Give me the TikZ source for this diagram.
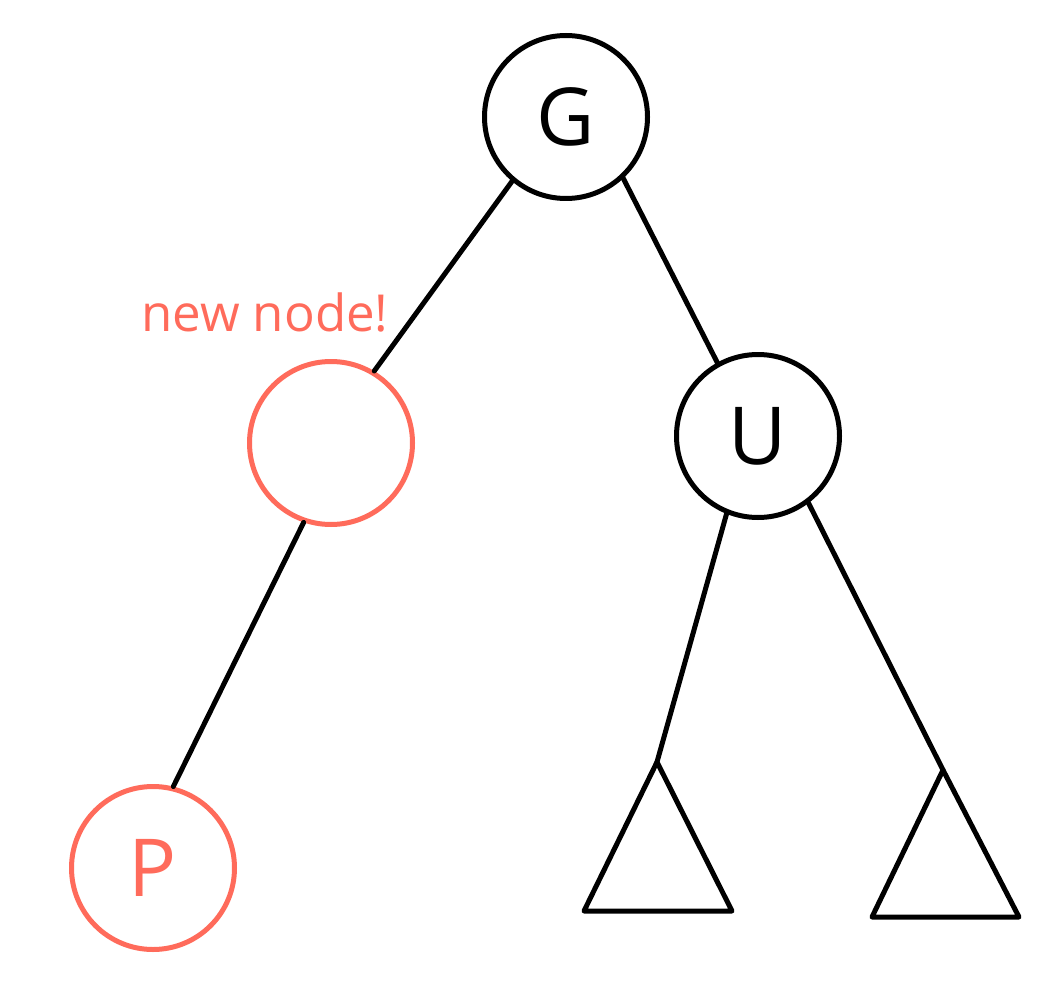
\documentclass[tikz,border=0pt]{standalone}
\usepackage{fontspec}
\setmainfont{Open Sans}
\definecolor{salmon}{HTML}{FF6B5B}
\tikzset{
  treenode/.style={circle, draw=black, line width=5pt, minimum size=163pt, inner sep=0pt, font=\fontsize{80}{80}\selectfont},
  rednode/.style={treenode, draw=salmon, text=salmon},
  edge/.style={line width=5pt, line cap=round},
  subtree/.style={line width=5pt, line join=round}
}
\begin{document}
\begin{tikzpicture}[x=1pt,y=-1pt]
\useasboundingbox (0,0) rectangle (1049,1000);
\node[treenode] (G) at (566,117) {G};
\node[rednode] (N) at (331,443) {};
\node[treenode] (U) at (758,436) {U};
\node[rednode] (P) at (153,868) {P};
\coordinate (T1) at (657,762);
\coordinate (T2) at (943,770);
\draw[subtree] (T1) -- (584,911) -- (732,911) -- cycle;
\draw[subtree] (T2) -- (872,917) -- (1019,917) -- cycle;
\draw[edge] (G.-130) -- (N.59);
\draw[edge] (G.-47) -- (U.119);
\draw[edge] (N.-109) -- (P.76);
\draw[edge] (U.-112) -- (T1);
\draw[edge] (U.-53) -- (T2);
\node[text=salmon, font=\fontsize{51}{51}\selectfont, anchor=base west, inner sep=0pt] (lbl) at (141,331) {new node!};
\end{tikzpicture}
\end{document}
